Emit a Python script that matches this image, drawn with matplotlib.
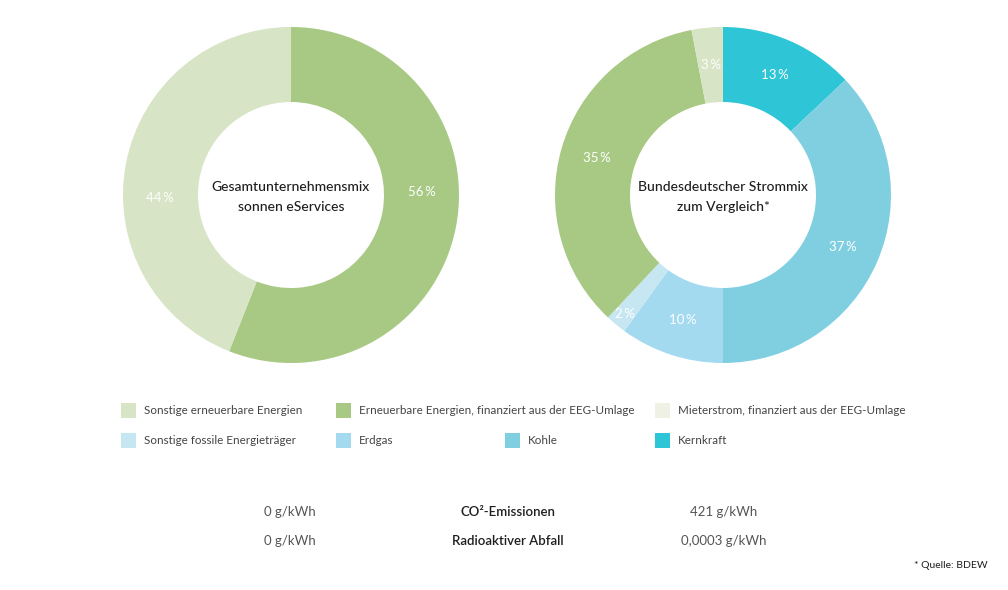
import matplotlib
matplotlib.use("Agg")
import matplotlib.pyplot as plt
import numpy as np
from matplotlib.patches import Rectangle

# ---------------- data ----------------
categories = [
    "Sonstige erneuerbare Energien",
    "Erneuerbare Energien, finanziert aus der EEG-Umlage",
    "Mieterstrom, finanziert aus der EEG-Umlage",
    "Sonstige fossile Energieträger",
    "Erdgas",
    "Kohle",
    "Kernkraft",
]
category_colors = ["#d7e4c5", "#a8c983", "#eef1e4", "#c6e7f2", "#a3daf0", "#80cfe1", "#2ec6d6"]

company_mix = [44, 56, 0, 0, 0, 0, 0]      # Gesamtunternehmensmix sonnen eServices
germany_mix = [3, 35, 0, 2, 10, 37, 13]    # Bundesdeutscher Strommix

company_title = "Gesamtunternehmensmix\nsonnen eServices"
germany_title = "Bundesdeutscher Strommix\nzum Vergleich*"

metric_names = ["CO²-Emissionen", "Radioaktiver Abfall"]
company_metrics = ["0 g/kWh", "0 g/kWh"]
germany_metrics = ["421 g/kWh", "0,0003 g/kWh"]
source_note = "* Quelle: BDEW"

# ---------------- figure ----------------
W, H = 1008, 590
FONT = ["Lato", "DejaVu Sans"]
fig = plt.figure(figsize=(W / 100, H / 100), dpi=100)
ax = fig.add_axes([0, 0, 1, 1])

def Y(py):
    return H - py

R_OUT, R_IN = 168, 93
ring_w = R_OUT - R_IN

def donut(values, cx, cy, title, label_rot=0.0):
    order = list(range(len(values)))[::-1]
    vals = [values[i] for i in order if values[i] > 0]
    cols = [category_colors[i] for i in order if values[i] > 0]
    wedges, _ = ax.pie(vals, colors=cols, startangle=90, counterclock=False,
                       center=(cx, Y(cy)), radius=R_OUT, frame=True,
                       wedgeprops=dict(width=ring_w, linewidth=0, antialiased=True))
    for w, v in zip(wedges, vals):
        mid = np.deg2rad((w.theta1 + w.theta2) / 2 + label_rot)
        r = R_OUT * (0.92 if v < 3 else 0.78)
        ax.text(cx + r * np.cos(mid), Y(cy) + r * np.sin(mid), f"{v}\u2009%",
                ha="center", va="center", color="white", fontsize=9.5,
                family=FONT)
    ax.text(cx, Y(cy) - 2, title, ha="center", va="center", color="#1e1e1e",
            fontsize=10, family=FONT, fontweight="medium", linespacing=1.75)

donut(company_mix, 291, 195, company_title, label_rot=12)
donut(germany_mix, 723, 195, germany_title)

# legend (flowing layout like the original)
legend_slots = [(121, 410), (336, 410), (655, 410),
                (121, 440), (336, 440), (505, 440), (655, 440)]
SQ = 15
for (lx, ly), name, col in zip(legend_slots, categories, category_colors):
    ax.add_patch(Rectangle((lx, Y(ly) - SQ / 2), SQ, SQ, facecolor=col, edgecolor="none"))
    ax.text(lx + SQ + 8, Y(ly), name, ha="left", va="center", color="#444444",
            fontsize=8.4, family=FONT)

# metrics table
row_y = [512, 541]
for i, yy in enumerate(row_y):
    ax.text(290, Y(yy), company_metrics[i], ha="center", va="center",
            color="#555555", fontsize=9.5, family=FONT)
    ax.text(508, Y(yy), metric_names[i], ha="center", va="center",
            color="#1e1e1e", fontsize=9.5, family=FONT, fontweight="semibold")
    ax.text(724, Y(yy), germany_metrics[i], ha="center", va="center",
            color="#555555", fontsize=9.5, family=FONT)

ax.text(988, Y(565), source_note, ha="right", va="center", color="#1e1e1e",
        fontsize=7.5, family=FONT)

ax.set_xlim(0, W)
ax.set_ylim(0, H)
ax.set_aspect("equal")
ax.axis("off")
fig.savefig("out.png", dpi=100, facecolor="white")
